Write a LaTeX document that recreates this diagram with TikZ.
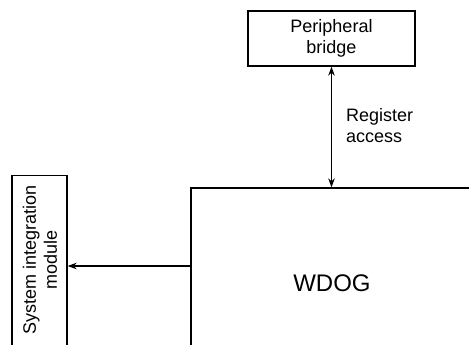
\documentclass[tikz,border=0pt]{standalone}
\usepackage{fontspec}
\setmainfont{Liberation Sans}
\usetikzlibrary{arrows.meta}
\tikzset{
  x=1pt,y=-1pt,
  blk/.style={draw=black, line width=1.3pt, fill=none, inner sep=0pt},
  lbl/.style={font=\fontsize{18}{21}\selectfont, align=center, inner sep=0pt},
  conn/.style={line width=1.2pt, -{Stealth[length=9pt,width=6.5pt]}},
  dconn/.style={line width=1.2pt, {Stealth[length=9pt,width=6.5pt]}-{Stealth[length=9pt,width=6.5pt]}}
}
\begin{document}
\begin{tikzpicture}
\clip (0,0) rectangle (469,345);
\fill[white] (0,0) rectangle (469,345);
% Peripheral bridge
\node[blk, lbl, minimum width=167pt, minimum height=55pt] (pb) at (331.5,38.5) {Peripheral\\bridge};
% WDOG
\node[blk, minimum width=282pt, minimum height=188pt] (wdog) at (332,282) {};
\node[lbl, font=\fontsize{24}{28}\selectfont] (wdoglbl) at (332,283) {WDOG};
% System integration module
\node[blk, rotate=90, minimum width=200pt, minimum height=55pt, anchor=east] (sim) at (39.5,175) {};
\node[lbl, rotate=90] (simlbl) at (40,260) {System integration\\module};
% connectors
\draw[dconn] (pb.south) -- (pb.south |- wdog.north);
\node[lbl, align=left, anchor=west] (reg) at (346,126) {Register\\access};
\draw[conn] (wdog.west |- 0,266) -- (sim.south |- 0,266);
\end{tikzpicture}
\end{document}
